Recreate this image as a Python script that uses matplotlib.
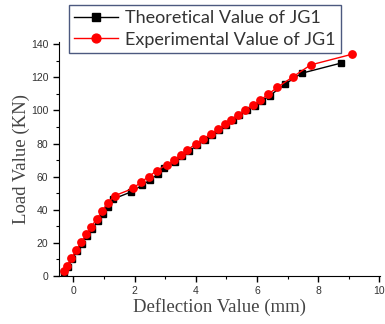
import matplotlib.pyplot as plt
from matplotlib.ticker import MultipleLocator

# Theoretical values (black squares)
theo_x = [-0.3, -0.18, -0.04, 0.12, 0.27, 0.45, 0.62, 0.8, 0.98, 1.15, 1.3, 1.9,
          2.26, 2.5, 2.76, 2.97, 3.33, 3.56, 3.78, 4.05, 4.29, 4.54, 4.77, 5.0,
          5.21, 5.43, 5.67, 5.93, 6.15, 6.42, 6.93, 7.46, 8.76]
theo_y = [2.5, 5.5, 10, 15, 19.5, 24, 28.5, 33, 37.5, 42, 46.5, 50.9,
          55, 58, 61.5, 65, 69, 72.5, 75.5, 79, 82, 85, 88, 91,
          94, 97, 100, 103, 105.5, 109, 116.1, 122.5, 128.7]

# Experimental values (red circles)
exp_x = [-0.31, -0.2, -0.06, 0.1, 0.24, 0.43, 0.59, 0.77, 0.95, 1.13, 1.35, 1.96,
         2.21, 2.46, 2.72, 3.05, 3.28, 3.51, 3.73, 4.0, 4.24, 4.49, 4.72, 4.95,
         5.16, 5.38, 5.62, 5.88, 6.1, 6.36, 6.66, 7.19, 7.75, 9.11]
exp_y = [3, 6, 11, 15.6, 20.3, 25.1, 29.9, 34.5, 39.5, 44.3, 48.5, 53,
         56.8, 60, 63.6, 67.2, 69.8, 73.4, 76.2, 79.8, 82.8, 85.8, 88.6, 91.6,
         94.5, 97.4, 100.3, 103.3, 106.1, 109.7, 113.9, 120.5, 127.5, 134]

fig = plt.figure(figsize=(3.85, 3.24), dpi=100)
ax = fig.add_axes([0.153, 0.148, 0.834, 0.723])

ax.plot(theo_x, theo_y, color='black', marker='s', markersize=4.8, linewidth=1,
        label='Theoretical Value of JG1')
ax.plot(exp_x, exp_y, color='red', marker='o', markersize=5.3, linewidth=1,
        label='Experimental Value of JG1')

ax.set_xlim(-0.47, 10.02)
ax.set_ylim(0, 141.5)
ax.xaxis.set_major_locator(MultipleLocator(2))
ax.xaxis.set_minor_locator(MultipleLocator(1))
ax.yaxis.set_major_locator(MultipleLocator(20))
ax.yaxis.set_minor_locator(MultipleLocator(10))
ax.spines['top'].set_visible(False)
ax.spines['right'].set_visible(False)
ax.tick_params(which='major', direction='out', length=4, width=1, labelsize=7.5,
               labelcolor='#333333')
ax.tick_params(which='minor', direction='out', length=2.5, width=0.8)
for lab in ax.get_xticklabels() + ax.get_yticklabels():
    lab.set_family('Liberation Sans')

ax.set_xlabel('Deflection Value (mm)', family='Liberation Serif', fontsize=13.5,
              color='#444444', labelpad=1)
ax.set_ylabel('Load Value (KN)', family='Liberation Serif', fontsize=13.5,
              color='#444444', labelpad=1)

leg = fig.legend(loc='upper left', bbox_to_anchor=(0.179, 0.985), ncol=1,
                 prop={'family': 'Lato', 'size': 13}, frameon=True, fancybox=False,
                 handlelength=2.4, borderpad=0.3, labelspacing=0.3,
                 handletextpad=0.4, borderaxespad=0, markerscale=1.2)
leg.get_frame().set_edgecolor('#1f2f5f')
leg.get_frame().set_linewidth(1)
for t in leg.get_texts():
    t.set_color('#333333')

fig.savefig('out.png', dpi=100)
